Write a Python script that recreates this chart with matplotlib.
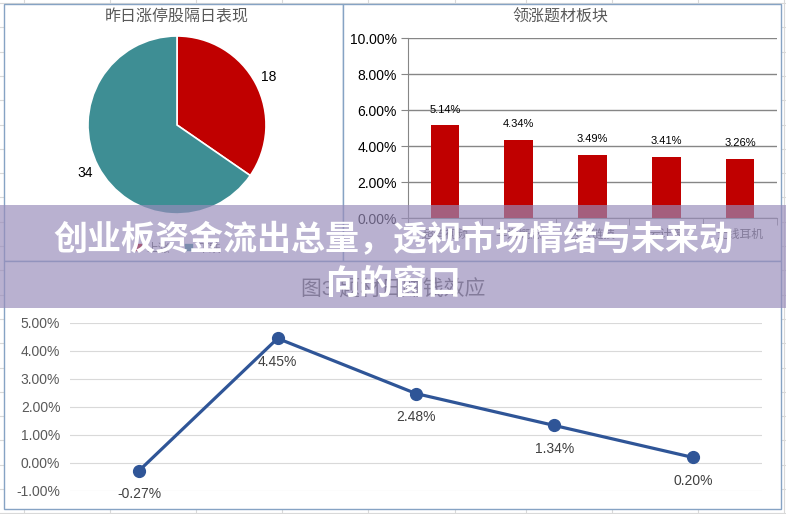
import matplotlib
matplotlib.use('Agg')
import matplotlib.pyplot as plt
import numpy as np
from matplotlib.patches import Rectangle
from matplotlib.ticker import FuncFormatter, FixedLocator

plt.rcParams['font.family'] = ['Liberation Sans', 'Noto Sans CJK SC', 'DejaVu Sans']

W, H = 786, 514

# ---- data ----
pie_labels = ['上涨', '下跌']
pie_values = [18, 34]
pie_title = '昨日涨停股隔日表现'

bar_cats = ['超清视频', '华为概念', '区块链技', '云计算', '无线耳机']
bar_vals = [5.14, 4.34, 3.49, 3.41, 3.26]
bar_title = '领涨题材板块'
bar_yticks = [0, 2, 4, 6, 8, 10]

line_cats = ['1', '2', '3', '4', '5']
line_vals = [-0.27, 4.45, 2.48, 1.34, 0.20]
line_title = '图3 题材日赚钱效应'
line_yticks = [-1, 0, 1, 2, 3, 4, 5]

banner_lines = ['创业板资金流出总量，透视市场情绪与未来动', '向的窗口']

# spreadsheet grid behind the charts
sheet_cols = [24, 110, 196, 282, 368, 455, 526, 612, 698, 784]
sheet_rows = [3 + 24.3 * i for i in range(22)]

pct = FuncFormatter(lambda v, p: f'{v:.2f}%')

fig = plt.figure(figsize=(W / 100, H / 100), dpi=100)


def px_axes(x0, y0, x1, y1, **kw):
    # place axes using pixel box, origin top-left
    return fig.add_axes([x0 / W, 1 - y1 / H, (x1 - x0) / W, (y1 - y0) / H], **kw)


# background sheet + chart frames
bg = px_axes(0, 0, W, H)
bg.set_xlim(0, W)
bg.set_ylim(H, 0)
bg.axis('off')
for x in sheet_cols:
    bg.axvline(x, color='#d9d9d9', lw=0.8, zorder=1)
for y in sheet_rows:
    bg.axhline(y, color='#d9d9d9', lw=0.8, zorder=1)
for x0, y0, x1, y1 in [(4, 4, 343, 261), (343, 4, 781, 261), (4, 261, 781, 509)]:
    bg.add_patch(Rectangle((x0, y0), x1 - x0, y1 - y0, fc='white', ec='#86a3c4', lw=1, zorder=3))
bg.text(177, 17, pie_title, ha='center', va='center', fontsize=11.5, color='#595959', zorder=4)
bg.text(560, 17, bar_title, ha='center', va='center', fontsize=11.5, color='#595959', zorder=4)
bg.text(393, 289, line_title, ha='center', va='center', fontsize=15, color='#595959', zorder=4)

# pie
ax_pie = px_axes(88, 36, 266, 214)
wedges, _ = ax_pie.pie(pie_values, colors=['#c00000', '#3e8e94'], startangle=90,
                       counterclock=False,
                       wedgeprops=dict(edgecolor='white', linewidth=1.2))
ax_pie.set_xlim(-1, 1)
ax_pie.set_ylim(-1, 1)
for w, v in zip(wedges, pie_values):
    ang = np.deg2rad((w.theta1 + w.theta2) / 2)
    ax_pie.text(1.16 * np.cos(ang), 1.16 * np.sin(ang), str(v), ha='center', va='center',
                fontsize=10, color='black')
ax_pie.legend(wedges, pie_labels, ncol=2, loc='center', bbox_to_anchor=(177 / W, 1 - 249 / H),
              bbox_transform=fig.transFigure, frameon=False, fontsize=8.5, handlelength=0.8,
              handleheight=0.8, handletextpad=0.3, columnspacing=1.2, labelcolor='#595959')

# bars
ax_bar = px_axes(408, 38, 777, 218)
xs = range(len(bar_vals))
ax_bar.bar(xs, bar_vals, width=0.39, color='#c00000', zorder=3)
ax_bar.set_xlim(-0.5, len(bar_vals) - 0.5)
ax_bar.set_ylim(0, 10)
ax_bar.set_yticks(bar_yticks)
ax_bar.yaxis.set_major_formatter(pct)
ax_bar.set_xticks(list(xs))
ax_bar.set_xticklabels(bar_cats, fontsize=8.5, color='#595959')
ax_bar.xaxis.set_minor_locator(FixedLocator([i - 0.5 for i in range(len(bar_vals) + 1)]))
ax_bar.tick_params(axis='x', which='major', length=0, pad=8)
ax_bar.tick_params(axis='x', which='minor', length=5, color='#868686')
ax_bar.tick_params(axis='y', length=5, color='#868686', labelsize=10, labelcolor='black', pad=3)
ax_bar.grid(axis='y', color='#868686', lw=1, zorder=0)
ax_bar.set_axisbelow(True)
for s in ['top', 'right']:
    ax_bar.spines[s].set_visible(False)
for s in ['left', 'bottom']:
    ax_bar.spines[s].set_color('#868686')
ax_bar.patch.set_alpha(0)
for i, v in zip(xs, bar_vals):
    ax_bar.annotate(f'{v:.2f}%', (i, v), xytext=(0, 11.5), textcoords='offset points',
                    ha='center', va='center', fontsize=8, color='black')

# line
ax_line = px_axes(70, 323, 762, 491)
lx = range(len(line_vals))
ax_line.plot(lx, line_vals, color='#2f5597', lw=2.3, marker='o', ms=8.5, zorder=3)
ax_line.set_xlim(-0.5, len(line_vals) - 0.5)
ax_line.set_ylim(-1, 5)
ax_line.set_yticks(line_yticks)
ax_line.yaxis.set_major_formatter(pct)
ax_line.set_xticks([])
ax_line.tick_params(axis='y', length=0, labelsize=10, labelcolor='#595959', pad=7)
ax_line.grid(axis='y', color='#d9d9d9', lw=0.8)
for s in ax_line.spines.values():
    s.set_visible(False)
ax_line.patch.set_alpha(0)
for i, v in zip(lx, line_vals):
    ax_line.annotate(f'{v:.2f}%', (i, v), xytext=(0, -17), textcoords='offset points',
                     ha='center', va='center', fontsize=10, color='#404040')

# banner overlay
ov = px_axes(0, 0, W, H, zorder=10)
ov.set_xlim(0, W)
ov.set_ylim(H, 0)
ov.axis('off')
ov.patch.set_alpha(0)
ov.add_patch(Rectangle((0, 205), W, 103, fc=(152 / 255, 140 / 255, 186 / 255), alpha=0.68, lw=0))
ov.text(393, 240, banner_lines[0], ha='center', va='center', fontsize=24.5,
        fontweight='bold', color='white', family=['Noto Sans CJK SC', 'DejaVu Sans'])
ov.text(393, 283, banner_lines[1], ha='center', va='center', fontsize=24.5,
        fontweight='bold', color='white', family=['Noto Sans CJK SC', 'DejaVu Sans'])

fig.savefig('out.png', dpi=100)
